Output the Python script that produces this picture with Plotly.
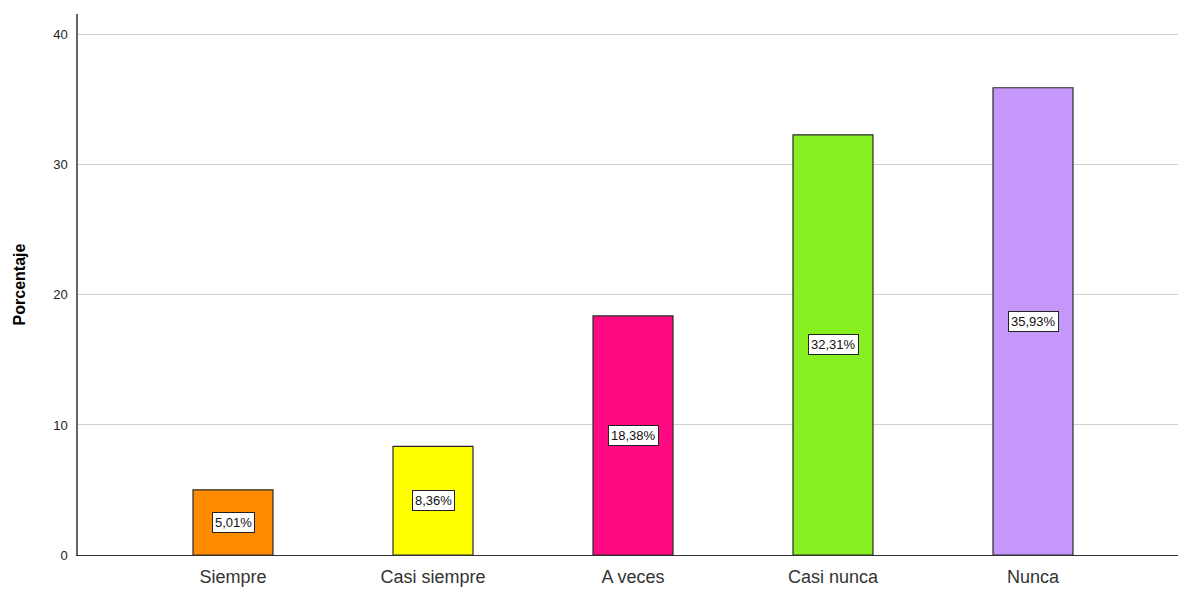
import plotly.graph_objects as go

categories = ["Siempre", "Casi siempre", "A veces", "Casi nunca", "Nunca"]
values = [5.01, 8.36, 18.38, 32.31, 35.93]
labels = ["5,01%", "8,36%", "18,38%", "32,31%", "35,93%"]
colors = ["#FF8C00", "#FFFF00", "#FF0A82", "#88F020", "#C597FA"]
y_ticks = [0, 10, 20, 30, 40]

fig = go.Figure()
fig.add_trace(go.Bar(
    x=categories, y=values, width=0.4,
    marker=dict(color=colors, line=dict(color="#2a2a2a", width=1.2)),
    hoverinfo="skip",
))

for c, v, t in zip(categories, values, labels):
    fig.add_annotation(
        x=c, y=v / 2, text=t, showarrow=False,
        font=dict(family="Arial, Liberation Sans", size=13, color="#111"),
        bgcolor="white", bordercolor="#222", borderwidth=1, borderpad=2,
    )

fig.update_layout(
    width=1178, height=590,
    margin=dict(l=78, r=0, t=14, b=35),
    paper_bgcolor="white", plot_bgcolor="white",
    showlegend=False,
    font=dict(family="Arial, Liberation Sans"),
)
fig.update_xaxes(
    range=[-0.775, 4.725],
    tickfont=dict(size=18, color="#333"),
    showline=True, linecolor="#333", linewidth=1.2,
    showgrid=False, ticks="", ticklabelstandoff=5,
)
fig.update_yaxes(
    range=[0, 41.6], tickvals=y_ticks,
    tickfont=dict(size=13, color="#222"),
    showline=True, linecolor="#666", linewidth=1.5,
    showgrid=True, gridcolor="#cfcfcf", gridwidth=1,
    zeroline=False, ticks="", ticklabelstandoff=6,
    title=dict(text="<b>Porcentaje</b>", font=dict(size=16, color="#000"), standoff=24),
)

fig.write_html(
    "out.html",
    config={"displayModeBar": False},
    post_script="document.body.style.margin='0';document.body.style.overflow='hidden';",
)
